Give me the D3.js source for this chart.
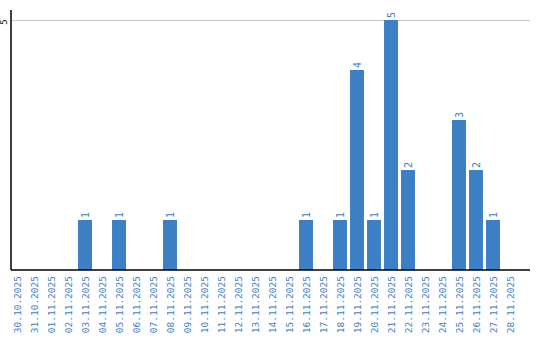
<!DOCTYPE html>
<html>
<head>
<meta charset="utf-8">
<script src="https://cdn.jsdelivr.net/npm/d3@7"></script>
<style>
	body { margin: 0; background: #fff; }
	svg text { font-family: "DejaVu Sans Mono", monospace; }
</style>
</head>
<body>
<div id="chart"></div>
<script>
var dates = ["30.10.2025", "31.10.2025", "01.11.2025", "02.11.2025", "03.11.2025", "04.11.2025",
	"05.11.2025", "06.11.2025", "07.11.2025", "08.11.2025", "09.11.2025", "10.11.2025",
	"11.11.2025", "12.11.2025", "13.11.2025", "14.11.2025", "15.11.2025", "16.11.2025",
	"17.11.2025", "18.11.2025", "19.11.2025", "20.11.2025", "21.11.2025", "22.11.2025",
	"23.11.2025", "24.11.2025", "25.11.2025", "26.11.2025", "27.11.2025", "28.11.2025"]
var counts = [0, 0, 0, 0, 1, 0,
	1, 0, 0, 1, 0, 0,
	0, 0, 0, 0, 0, 1,
	0, 1, 4, 1, 5, 2,
	0, 0, 3, 2, 1, 0]
var yTicks = [5]

var width = 540, height = 340
var margin = {top: 10, right: 10, bottom: 70, left: 11}
var barColor = "#3b7fc4"

var svg = d3.select("#chart").append("svg")
	.attr("width", width)
	.attr("height", height)

var xScale = d3.scaleBand()
	.domain(dates)
	.range([8.5, 518.5])
	.paddingInner(0.18)
	.paddingOuter(0.09)

var yScale = d3.scaleLinear()
	.domain([0, 5.2])
	.range([height - margin.bottom, margin.top])

// gridline
svg.selectAll(".grid")
	.data(yTicks)
	.enter()
	.append("line")
	.attr("x1", margin.left)
	.attr("x2", width - margin.right)
	.attr("y1", d => Math.round(yScale(d)) + 0.5)
	.attr("y2", d => Math.round(yScale(d)) + 0.5)
	.attr("stroke", "#c8c8c8")
	.attr("stroke-width", 1)

// y tick labels
svg.selectAll(".ytick")
	.data(yTicks)
	.enter()
	.append("text")
	.attr("transform", d => "translate(7," + (yScale(d) + 2) + ") rotate(-90)")
	.attr("text-anchor", "middle")
	.attr("font-size", 9)
	.attr("fill", "#000")
	.text(d => d)

var data = dates.map((d, i) => ({date: d, value: counts[i]}))

svg.selectAll(".bar")
	.data(data.filter(d => d.value > 0))
	.enter()
	.append("rect")
	.attr("class", "bar")
	.attr("x", d => xScale(d.date))
	.attr("y", d => yScale(d.value))
	.attr("width", xScale.bandwidth())
	.attr("height", d => yScale(0) - yScale(d.value))
	.attr("fill", barColor)

// value labels
svg.selectAll(".val")
	.data(data.filter(d => d.value > 0))
	.enter()
	.append("text")
	.attr("transform", d => "translate(" + (xScale(d.date) + xScale.bandwidth() / 2 + 3.5) + "," + (yScale(d.value) - 2) + ") rotate(-90)")
	.attr("text-anchor", "start")
	.attr("font-size", 10)
	.attr("fill", barColor)
	.text(d => d.value)

// axes lines
svg.append("line")
	.attr("x1", margin.left).attr("x2", margin.left)
	.attr("y1", margin.top).attr("y2", yScale(0))
	.attr("stroke", "#000").attr("stroke-width", 1.5)
svg.append("line")
	.attr("x1", margin.left).attr("x2", width - margin.right)
	.attr("y1", yScale(0)).attr("y2", yScale(0))
	.attr("stroke", "#000").attr("stroke-width", 1.5)

// x labels
svg.selectAll(".xlab")
	.data(dates)
	.enter()
	.append("text")
	.attr("transform", d => "translate(" + (xScale(d) + xScale.bandwidth() / 2 + 3.5) + "," + (yScale(0) + 6) + ") rotate(-90)")
	.attr("text-anchor", "end")
	.attr("font-size", 9.5)
	.attr("fill", barColor)
	.text(d => d)
</script>
</body>
</html>
